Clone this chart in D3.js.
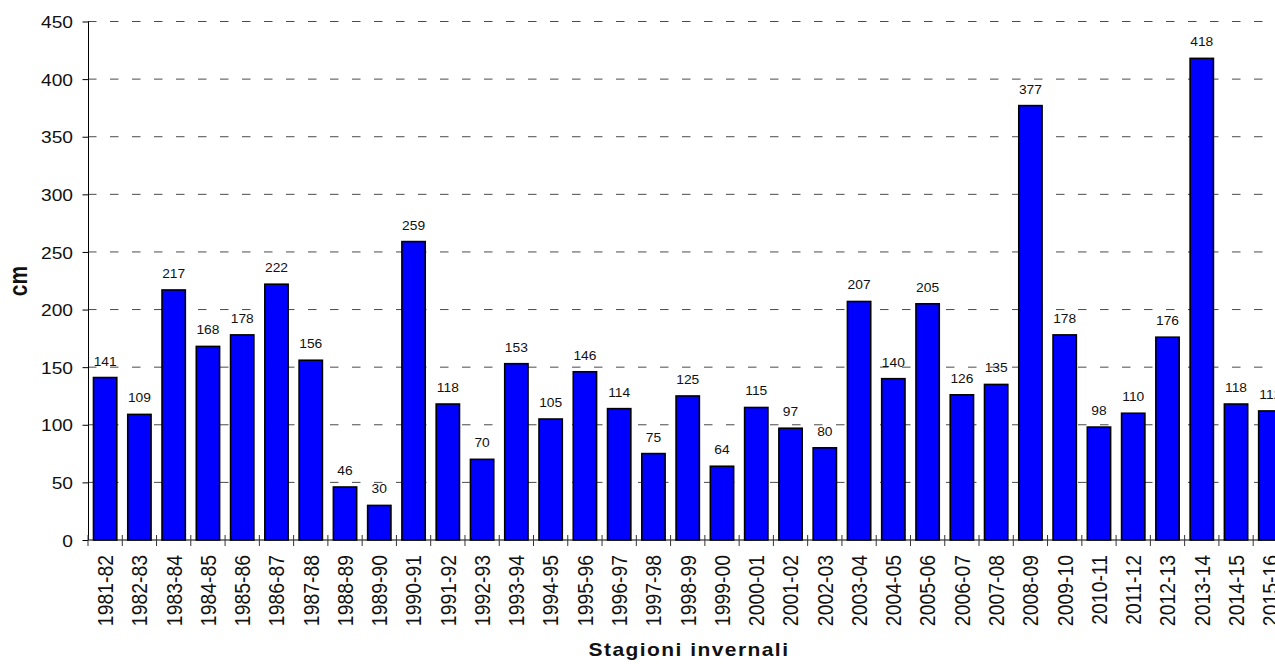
<!DOCTYPE html>
<html>
<head>
<meta charset="utf-8">
<script src="https://cdn.jsdelivr.net/npm/d3@7"></script>
<style>
  html, body { margin: 0; padding: 0; background: #fff; overflow: hidden; }
  svg { display: block; font-family: Arial, "Liberation Sans", sans-serif; }
</style>
</head>
<body>
<svg id="chart" width="1275" height="664"></svg>
<script>
// Winter seasons and snowfall totals (cm)
const seasons = [
  "1981-82","1982-83","1983-84","1984-85","1985-86","1986-87","1987-88","1988-89",
  "1989-90","1990-91","1991-92","1992-93","1993-94","1994-95","1995-96","1996-97",
  "1997-98","1998-99","1999-00","2000-01","2001-02","2002-03","2003-04","2004-05",
  "2005-06","2006-07","2007-08","2008-09","2009-10","2010-11","2011-12","2012-13",
  "2013-14","2014-15","2015-16"
];
const snowCm = [
  141, 109, 217, 168, 178, 222, 156, 46,
  30, 259, 118, 70, 153, 105, 146, 114,
  75, 125, 64, 115, 97, 80, 207, 140,
  205, 126, 135, 377, 178, 98, 110, 176,
  418, 118, 112
];
const yTicks = [0, 50, 100, 150, 200, 250, 300, 350, 400, 450];
const yTitle = "cm";
const xTitle = "Stagioni invernali";

const svg = d3.select("#chart");
const plotLeft = 88, plotTop = 21.5, plotBottom = 540;
const step = 34.27;
const plotRight = plotLeft + step * seasons.length;   // plot runs past the visible edge

const x = d3.scaleBand().domain(seasons).range([plotLeft, plotRight])
  .paddingInner(0.32).paddingOuter(0.16);
const y = d3.scaleLinear().domain([0, 450]).range([plotBottom, plotTop]);

// dashed horizontal gridlines
svg.append("g").selectAll("line")
  .data(yTicks.filter(d => d > 0))
  .join("line")
  .attr("x1", plotLeft).attr("x2", plotRight)
  .attr("y1", d => y(d)).attr("y2", d => y(d))
  .attr("stroke", "#4a4a4a").attr("stroke-width", 1)
  .attr("stroke-dasharray", "8.5,13.5");

// bars
svg.append("g").selectAll("rect")
  .data(seasons)
  .join("rect")
  .attr("x", d => x(d))
  .attr("width", x.bandwidth())
  .attr("y", (d, i) => y(snowCm[i]))
  .attr("height", (d, i) => plotBottom - y(snowCm[i]))
  .attr("fill", "#0000ff")
  .attr("stroke", "#000")
  .attr("stroke-width", 1.6);

// value labels above the bars
svg.append("g").selectAll("text")
  .data(seasons)
  .join("text")
  .attr("transform", (d, i) => `translate(${x(d) + x.bandwidth() / 2},${y(snowCm[i]) - 12}) scale(1.15,1)`)
  .attr("text-anchor", "middle")
  .attr("font-size", 12)
  .attr("fill", "#111")
  .text((d, i) => snowCm[i]);

// y axis
const yAxis = d3.axisLeft(y).tickValues(yTicks).tickSize(5.5).tickFormat(d3.format("d"));
const gy = svg.append("g").attr("transform", `translate(${plotLeft},0)`).call(yAxis);
gy.select(".domain").attr("stroke", "#000").attr("d", `M0.5,${plotTop}V${plotBottom}`);
gy.selectAll(".tick line").attr("stroke", "#000");
gy.selectAll(".tick text").remove();
gy.selectAll(".tick").append("text")
  .attr("transform", "translate(-15,0) scale(1.2,1)")
  .attr("text-anchor", "end")
  .attr("dy", "0.38em")
  .attr("font-size", 16)
  .attr("fill", "#111")
  .text(d => d);

// x axis: baseline and boundary ticks crossing it
const gx = svg.append("g");
gx.append("line")
  .attr("x1", plotLeft).attr("x2", plotRight)
  .attr("y1", plotBottom).attr("y2", plotBottom)
  .attr("stroke", "#000").attr("stroke-width", 1);
gx.selectAll("line.b")
  .data(d3.range(seasons.length + 1))
  .join("line")
  .attr("class", "b")
  .attr("x1", i => plotLeft + i * x.step()).attr("x2", i => plotLeft + i * x.step())
  .attr("y1", plotBottom - 5).attr("y2", plotBottom + 6)
  .attr("stroke", "#333").attr("stroke-width", 1);
gx.selectAll("text")
  .data(seasons)
  .join("text")
  .attr("transform", d => `translate(${x(d) + x.bandwidth() / 2},555) scale(1.12,1) rotate(-90)`)
  .attr("text-anchor", "end")
  .attr("dy", "0.36em")
  .attr("font-size", 19.4)
  .attr("fill", "#111")
  .text(d => d);

// axis titles
svg.append("text")
  .attr("transform", `translate(689,656) scale(1.2,1)`)
  .attr("text-anchor", "middle")
  .attr("font-size", 17.5)
  .attr("font-weight", "bold")
  .attr("letter-spacing", 1.2)
  .attr("fill", "#111")
  .text(xTitle);

svg.append("text")
  .attr("transform", `translate(17.5,281) scale(1.2,1) rotate(-90)`)
  .attr("text-anchor", "middle")
  .attr("dy", "0.36em")
  .attr("font-size", 21)
  .attr("font-weight", "bold")
  .attr("fill", "#111")
  .text(yTitle);
</script>
</body>
</html>
